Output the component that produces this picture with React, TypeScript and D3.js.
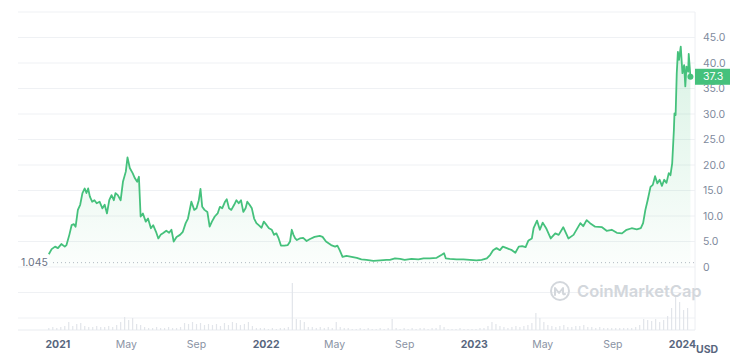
import React, { useRef, useEffect } from 'react';
import * as d3 from 'd3';

const WIDTH = 750;
const HEIGHT = 362;
const PLOT_LEFT = 18;
const PLOT_RIGHT = 695;
const GREEN = '#45c17c';

const X_DOMAIN = ['2020-10-23', '2024-01-23'];

// [date, price in USD]
const priceSeries: [string, number][] = [
    ['2020-12-16', 2.5], ['2020-12-21', 3.5], ['2020-12-27', 4.0], ['2021-01-01', 3.7], ['2021-01-07', 4.5],
    ['2021-01-13', 4.0], ['2021-01-16', 4.3], ['2021-01-21', 6.3], ['2021-01-25', 8.2], ['2021-01-29', 8.4],
    ['2021-02-01', 7.9], ['2021-02-05', 11.2], ['2021-02-09', 12.2], ['2021-02-13', 14.5], ['2021-02-17', 15.4],
    ['2021-02-20', 14.5], ['2021-02-23', 15.4], ['2021-02-26', 13.8], ['2021-03-02', 12.8], ['2021-03-06', 13.1],
    ['2021-03-10', 12.5], ['2021-03-15', 12.8], ['2021-03-20', 11.5], ['2021-03-24', 12.2], ['2021-03-28', 10.5],
    ['2021-04-01', 13.1], ['2021-04-05', 14.1], ['2021-04-09', 13.1], ['2021-04-12', 14.5], ['2021-04-16', 14.1],
    ['2021-04-21', 13.1], ['2021-04-25', 16.7], ['2021-04-30', 18.7], ['2021-05-03', 21.5], ['2021-05-07', 19.4],
    ['2021-05-12', 18.4], ['2021-05-16', 17.4], ['2021-05-20', 16.7], ['2021-05-23', 17.7], ['2021-05-26', 9.9],
    ['2021-05-30', 10.5], ['2021-06-04', 8.9], ['2021-06-08', 9.5], ['2021-06-13', 7.6], ['2021-06-17', 8.2],
    ['2021-06-22', 6.9], ['2021-06-26', 5.6], ['2021-06-30', 6.3], ['2021-07-04', 6.6], ['2021-07-10', 7.1],
    ['2021-07-15', 6.7], ['2021-07-19', 7.3], ['2021-07-23', 5.0], ['2021-07-28', 5.9], ['2021-08-03', 6.3],
    ['2021-08-08', 6.9], ['2021-08-13', 8.6], ['2021-08-17', 9.5], ['2021-08-23', 12.8], ['2021-08-28', 11.2],
    ['2021-09-01', 11.5], ['2021-09-05', 13.1], ['2021-09-08', 15.3], ['2021-09-11', 11.8], ['2021-09-15', 11.2],
    ['2021-09-20', 10.8], ['2021-09-24', 7.9], ['2021-09-28', 8.9], ['2021-10-03', 9.9], ['2021-10-08', 10.5],
    ['2021-10-12', 11.8], ['2021-10-16', 11.5], ['2021-10-21', 12.8], ['2021-10-24', 13.3], ['2021-10-28', 11.5],
    ['2021-11-01', 11.2], ['2021-11-06', 12.2], ['2021-11-10', 13.1], ['2021-11-14', 12.5], ['2021-11-18', 13.1],
    ['2021-11-22', 10.8], ['2021-11-26', 11.5], ['2021-11-29', 12.8], ['2021-12-03', 12.2], ['2021-12-07', 11.5],
    ['2021-12-11', 9.5], ['2021-12-15', 8.6], ['2021-12-19', 8.2], ['2021-12-24', 7.7], ['2021-12-28', 8.9],
    ['2022-01-02', 8.2], ['2022-01-06', 7.6], ['2022-01-11', 7.3], ['2022-01-15', 6.3], ['2022-01-19', 6.6],
    ['2022-01-23', 5.6], ['2022-01-27', 4.2], ['2022-02-02', 4.2], ['2022-02-08', 4.3], ['2022-02-12', 5.0],
    ['2022-02-15', 7.3], ['2022-02-18', 6.3], ['2022-02-21', 5.6], ['2022-02-24', 5.3], ['2022-03-01', 5.6],
    ['2022-03-07', 5.7], ['2022-03-13', 5.1], ['2022-03-19', 5.5], ['2022-03-27', 5.9], ['2022-04-05', 6.1],
    ['2022-04-10', 5.9], ['2022-04-16', 5.0], ['2022-04-25', 4.3], ['2022-05-02', 4.0], ['2022-05-06', 4.2],
    ['2022-05-10', 3.3], ['2022-05-15', 2.0], ['2022-05-22', 2.2], ['2022-05-31', 2.0], ['2022-06-09', 1.8],
    ['2022-06-17', 1.5], ['2022-06-26', 1.4], ['2022-07-08', 1.2], ['2022-07-20', 1.3], ['2022-07-31', 1.4],
    ['2022-08-06', 1.4], ['2022-08-15', 1.7], ['2022-08-24', 1.6], ['2022-09-01', 1.4], ['2022-09-13', 1.6],
    ['2022-09-25', 1.5], ['2022-10-04', 1.7], ['2022-10-15', 1.7], ['2022-10-27', 1.8], ['2022-11-05', 2.4],
    ['2022-11-09', 2.7], ['2022-11-12', 1.7], ['2022-11-19', 1.6], ['2022-12-01', 1.5], ['2022-12-13', 1.5],
    ['2022-12-24', 1.4], ['2023-01-05', 1.3], ['2023-01-14', 1.4], ['2023-01-23', 1.7], ['2023-01-29', 2.4],
    ['2023-02-03', 3.3], ['2023-02-09', 3.7], ['2023-02-15', 3.3], ['2023-02-20', 4.0], ['2023-02-27', 3.7],
    ['2023-03-08', 3.3], ['2023-03-14', 2.8], ['2023-03-20', 4.0], ['2023-03-26', 4.1], ['2023-04-01', 3.9],
    ['2023-04-06', 5.2], ['2023-04-12', 5.6], ['2023-04-15', 7.6], ['2023-04-21', 9.1], ['2023-04-26', 7.3],
    ['2023-05-01', 8.7], ['2023-05-07', 7.6], ['2023-05-15', 5.6], ['2023-05-23', 6.6], ['2023-05-29', 6.3],
    ['2023-06-06', 7.8], ['2023-06-15', 5.6], ['2023-06-24', 6.3], ['2023-07-06', 8.6], ['2023-07-11', 8.0],
    ['2023-07-17', 9.2], ['2023-07-23', 8.6], ['2023-08-01', 7.9], ['2023-08-13', 7.8], ['2023-08-21', 7.1],
    ['2023-08-30', 7.3], ['2023-09-08', 6.7], ['2023-09-17', 6.6], ['2023-09-25', 7.3], ['2023-10-04', 7.6],
    ['2023-10-13', 7.4], ['2023-10-20', 7.6], ['2023-10-24', 8.6], ['2023-10-28', 11.2], ['2023-11-01', 13.1],
    ['2023-11-06', 15.7], ['2023-11-10', 16.1], ['2023-11-14', 17.8], ['2023-11-18', 16.4], ['2023-11-22', 17.1],
    ['2023-11-26', 15.9], ['2023-11-30', 17.1], ['2023-12-04', 16.5], ['2023-12-08', 18.4], ['2023-12-11', 18.0],
    ['2023-12-14', 20.3], ['2023-12-17', 26.9], ['2023-12-18', 30.1], ['2023-12-20', 29.8], ['2023-12-22', 38.0],
    ['2023-12-24', 42.2], ['2023-12-26', 40.6], ['2023-12-29', 43.2], ['2024-01-01', 38.0], ['2024-01-04', 39.6],
    ['2024-01-06', 35.4], ['2024-01-08', 39.3], ['2024-01-11', 38.3], ['2024-01-12', 41.8], ['2024-01-15', 37.3],
];

// weekly volume (relative units), first bar on VOLUME_START
const VOLUME_START = '2020-12-16';
const volumeValues = [
    2, 3, 2, 3, 4, 8, 4, 6, 7, 4, 3, 3, 4, 3, 3, 4, 3, 5, 8, 13,
    10, 12, 6, 5, 3, 2, 2, 3, 2, 2, 3, 2, 2, 3, 7, 6, 8, 6, 7, 5,
    6, 5, 6, 4, 7, 5, 8, 7, 5, 6, 8, 4, 2, 2, 2, 1, 2, 1, 2, 2,
    3, 47, 11, 10, 8, 3, 3, 2, 3, 2, 3, 2, 8, 3, 2, 2, 1, 1, 2, 1,
    2, 1, 1, 2, 1, 2, 11, 2, 1, 2, 1, 2, 1, 2, 2, 1, 2, 2, 5, 3,
    1, 1, 1, 2, 1, 1, 1, 1, 2, 2, 4, 8, 6, 4, 3, 2, 3, 4, 3, 4,
    5, 7, 17, 12, 8, 5, 4, 3, 4, 5, 3, 3, 4, 4, 5, 3, 3, 2, 3, 2,
    2, 2, 2, 2, 2, 2, 2, 3, 5, 11, 10, 9, 11, 8, 10, 14, 22, 35, 28, 20,
    22,
];

const priceTicks = [0, 5, 10, 15, 20, 25, 30, 35, 40, 45];
const gridValues = [-10, -5, 0, 5, 10, 15, 20, 25, 30, 35, 40, 45, 50];
const xTicks: [string, string, boolean][] = [
    ['2021-01-01', '2021', true], ['2021-05-01', 'May', false], ['2021-09-01', 'Sep', false],
    ['2022-01-01', '2022', true], ['2022-05-01', 'May', false], ['2022-09-01', 'Sep', false],
    ['2023-01-01', '2023', true], ['2023-05-01', 'May', false], ['2023-09-01', 'Sep', false],
    ['2024-01-01', '2024', true],
];
const OPEN_PRICE = 1.045;
const LAST_PRICE = 37.3;

const parse = d3.timeParse('%Y-%m-%d');

const App: React.FC = () => {
    const svgRef = useRef<SVGSVGElement>(null);

    useEffect(() => {
        if (!svgRef.current) return;
        const svg = d3.select(svgRef.current);
        svg.selectAll('*').remove();

        const font = 'Inter, "Noto Sans", sans-serif';

        const x = d3.scaleTime()
            .domain(X_DOMAIN.map(d => parse(d)!))
            .range([PLOT_LEFT, PLOT_RIGHT]);
        const y = d3.scaleLinear().domain([0, 45]).range([267, 37.5]);
        const yVol = d3.scaleLinear().domain([0, 50]).range([330, 280]);

        const data = priceSeries.map(([d, v]) => ({ date: parse(d)!, value: v }));

        const defs = svg.append('defs');
        const grad = defs.append('linearGradient')
            .attr('id', 'areaFill')
            .attr('x1', 0).attr('y1', 0).attr('x2', 0).attr('y2', 1);
        grad.append('stop').attr('offset', '0%').attr('stop-color', GREEN).attr('stop-opacity', 0.2);
        grad.append('stop').attr('offset', '100%').attr('stop-color', GREEN).attr('stop-opacity', 0.02);

        // grid
        svg.append('g')
            .selectAll('line')
            .data(gridValues)
            .join('line')
            .attr('x1', PLOT_LEFT).attr('x2', PLOT_RIGHT)
            .attr('y1', d => y(d)).attr('y2', d => y(d))
            .attr('stroke', '#eff1f4').attr('stroke-width', 1);

        svg.append('line')
            .attr('x1', PLOT_RIGHT).attr('x2', PLOT_RIGHT)
            .attr('y1', y(50)).attr('y2', yVol(0))
            .attr('stroke', '#eceef2');
        svg.append('line')
            .attr('x1', PLOT_LEFT).attr('x2', PLOT_RIGHT)
            .attr('y1', yVol(0)).attr('y2', yVol(0))
            .attr('stroke', '#e9ecf0');

        // volume bars
        const volStart = parse(VOLUME_START)!;
        svg.append('g')
            .selectAll('rect')
            .data(volumeValues)
            .join('rect')
            .attr('x', (_, i) => x(d3.timeDay.offset(volStart, i * 7)) - 0.6)
            .attr('width', 1.2)
            .attr('y', d => yVol(d))
            .attr('height', d => yVol(0) - yVol(d))
            .attr('fill', '#e2e5ea');

        // watermark
        const wm = svg.append('g').attr('transform', 'translate(560, 291)');
        wm.append('circle').attr('r', 9).attr('fill', 'none').attr('stroke', '#d3d7dc').attr('stroke-width', 2);
        wm.append('path')
            .attr('d', 'M-5,4 L-5,-3 L-1,2 L3,-3 L3,2 Q3,4 5,3')
            .attr('fill', 'none').attr('stroke', '#d3d7dc').attr('stroke-width', 2)
            .attr('stroke-linejoin', 'round').attr('stroke-linecap', 'round');
        svg.append('text')
            .attr('x', 577).attr('y', 297)
            .attr('font-family', font).attr('font-size', 16.5).attr('font-weight', 600)
            .attr('fill', '#d3d7dc')
            .text('CoinMarketCap');

        // open price dotted line
        svg.append('line')
            .attr('x1', 53).attr('x2', PLOT_RIGHT)
            .attr('y1', y(OPEN_PRICE) + 1).attr('y2', y(OPEN_PRICE) + 1)
            .attr('stroke', '#b4bac3').attr('stroke-width', 1)
            .attr('stroke-dasharray', '1,3');
        svg.append('text')
            .attr('x', 21).attr('y', y(OPEN_PRICE) + 1)
            .attr('dy', '0.35em')
            .attr('font-family', font).attr('font-size', 10.5)
            .attr('fill', '#6b7385')
            .text(String(OPEN_PRICE));

        // area + line
        const area = d3.area<{ date: Date; value: number }>()
            .x(d => x(d.date))
            .y0(y(0))
            .y1(d => y(d.value));
        svg.append('path')
            .datum(data)
            .attr('d', area)
            .attr('fill', 'url(#areaFill)');

        const line = d3.line<{ date: Date; value: number }>()
            .x(d => x(d.date))
            .y(d => y(d.value));
        svg.append('path')
            .datum(data)
            .attr('d', line)
            .attr('fill', 'none')
            .attr('stroke', GREEN)
            .attr('stroke-width', 1.8)
            .attr('stroke-linejoin', 'round');

        const last = data[data.length - 1];
        svg.append('circle')
            .attr('cx', x(last.date)).attr('cy', y(last.value))
            .attr('r', 3).attr('fill', GREEN);

        // y axis labels
        svg.append('g')
            .selectAll('text')
            .data(priceTicks)
            .join('text')
            .attr('x', 703)
            .attr('y', d => y(d))
            .attr('dy', '0.35em')
            .attr('font-family', font).attr('font-size', 10.5)
            .attr('fill', '#808a9d')
            .text(d => (d === 0 ? '0' : d.toFixed(1)));

        // last price tag
        svg.append('rect')
            .attr('x', PLOT_RIGHT).attr('y', y(LAST_PRICE) - 8)
            .attr('width', 35).attr('height', 16)
            .attr('fill', GREEN);
        svg.append('text')
            .attr('x', 703).attr('y', y(LAST_PRICE))
            .attr('dy', '0.35em')
            .attr('font-family', font).attr('font-size', 10.5)
            .attr('fill', '#ffffff')
            .text(LAST_PRICE.toFixed(1));

        // x axis labels
        svg.append('g')
            .selectAll('text')
            .data(xTicks)
            .join('text')
            .attr('x', d => x(parse(d[0])!))
            .attr('y', 344)
            .attr('dy', '0.35em')
            .attr('text-anchor', 'middle')
            .attr('font-family', font).attr('font-size', 10.5)
            .attr('font-weight', d => (d[2] ? 700 : 400))
            .attr('fill', d => (d[2] ? '#58667e' : '#8a93a4'))
            .text(d => d[1]);

        svg.append('text')
            .attr('x', 696).attr('y', 349)
            .attr('dy', '0.35em')
            .attr('font-family', font).attr('font-size', 10.5).attr('font-weight', 700)
            .attr('fill', '#58667e')
            .text('USD');
    }, []);

    return (
        <div style={{ position: 'absolute', left: 0, top: 0, width: WIDTH, height: HEIGHT, background: '#fff' }}>
            <svg ref={svgRef} width={WIDTH} height={HEIGHT} viewBox={`0 0 ${WIDTH} ${HEIGHT}`} />
        </div>
    );
};

export default App;
